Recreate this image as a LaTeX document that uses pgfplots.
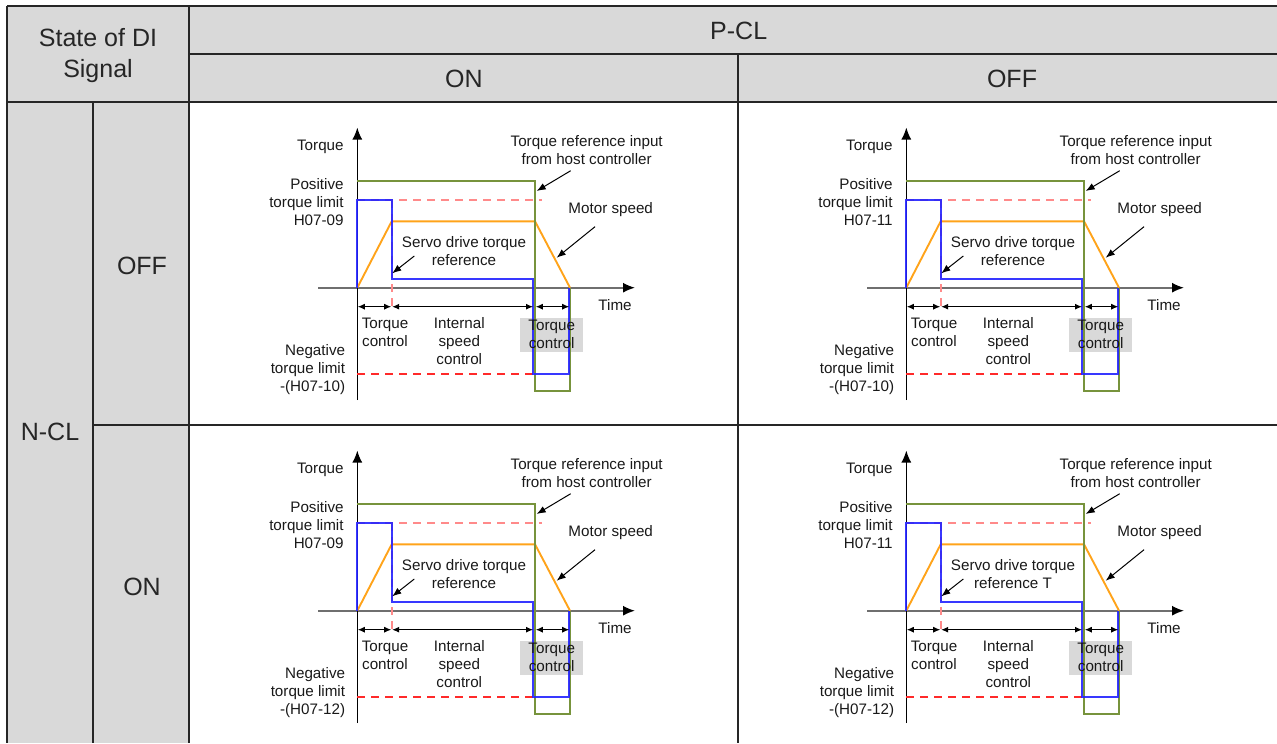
\documentclass[border=0pt]{standalone}
\usepackage{pgfplots}
\pgfplotsset{compat=1.18}
\usepackage{fontspec}
\setmainfont{Liberation Sans}
\usetikzlibrary{arrows.meta}
\definecolor{tblgray}{HTML}{D9D9D9}
\definecolor{tblline}{HTML}{262626}
\definecolor{txt}{HTML}{262626}
\definecolor{cgreen}{HTML}{77933C}
\definecolor{cblue}{HTML}{2222FF}
\definecolor{corange}{HTML}{FFA31A}
\definecolor{cred}{HTML}{FF2A2A}
\definecolor{caxis}{HTML}{6F6F6F}

\pgfplotsset{diag/.style={anchor=north west, scale only axis, width=274.5pt, height=161.5pt,
  xmin=189, xmax=738, ymin=102, ymax=425, y dir=reverse, hide axis, clip=false}}
\tikzset{lbl/.style={font=\fontsize{7.6}{9}\selectfont, inner sep=0pt, text=black!90},
  hdr/.style={font=\fontsize{12.5}{15.5}\selectfont, inner sep=0pt, text=txt}}

\newcommand{\diagram}[5]{%
\begin{axis}[diag, at={(#1,#2)}]
\fill[tblgray] (axis cs:520,318) rectangle (axis cs:582.7,351.7);
% time axis
\addplot[caxis, line width=0.8pt, -{Latex[length=6pt,width=5pt,color=black]}] coordinates {(318,287.7) (635,287.7)};
% torque axis
\addplot[black, line width=0.75pt, -{Latex[length=6pt,width=5pt]}] coordinates {(357.3,400) (357.3,127.5)};
% orange motor speed
\addplot[corange, line width=0.95pt] coordinates {(357.3,287.7) (391.7,221.3) (535,221.3) (570,287.7)};
% green torque reference input
\addplot[cgreen, line width=1pt] coordinates {(357.3,181) (535,181) (535,391) (570,391) (570,287.7)};
% red dashed limits and vertical
\addplot[cred!55, line width=0.8pt, dash pattern=on 4pt off 3pt] coordinates {(391.7,200) (391.7,307)};
\addplot[cred!55, line width=0.8pt, dash pattern=on 4pt off 3pt] coordinates {(357.3,200) (542,200)};
\addplot[cred, line width=0.8pt, dash pattern=on 4pt off 3pt] coordinates {(357.3,374) (535,374)};
% blue servo drive torque reference
\addplot[cblue, line width=1pt, opacity=0.9] coordinates {(357.3,287.7) (357.3,200) (391.7,200) (391.7,279.3) (533.3,279.3) (533.3,374) (569,374) (569,287.7)};
% dimension arrows
\addplot[black, line width=0.5pt, {Latex[length=3.5pt,width=3pt]}-{Latex[length=3.5pt,width=3pt]}] coordinates {(357.8,306.7) (391.2,306.7)};
\addplot[black, line width=0.5pt, {Latex[length=3.5pt,width=3pt]}-{Latex[length=3.5pt,width=3pt]}] coordinates {(392.2,306.7) (533,306.7)};
\addplot[black, line width=0.5pt, {Latex[length=3.5pt,width=3pt]}-{Latex[length=3.5pt,width=3pt]}] coordinates {(535.8,306.7) (569.2,306.7)};
% annotation arrows
\addplot[black, line width=0.5pt, -{Latex[length=4.5pt,width=3.5pt]}] coordinates {(570.7,170.7) (536.7,191)};
\addplot[black, line width=0.5pt, -{Latex[length=4.5pt,width=3.5pt]}] coordinates {(595,226.7) (556.7,257.7)};
\addplot[black, line width=0.5pt, -{Latex[length=4.5pt,width=3.5pt]}] coordinates {(414.3,256) (392.3,273.3)};
% labels
\node[lbl, anchor=east] at (axis cs:344,146.7) {Torque};
\node[lbl, anchor=east, align=right] at (axis cs:344,202.3) {Positive\\torque limit\\#3};
\node[lbl, anchor=east, align=right] at (axis cs:345.5,369.7) {Negative\\torque limit\\#4};
\node[lbl, align=center] at (axis cs:586.7,150) {Torque reference input\\from host controller};
\node[lbl] at (axis cs:610.7,210) {Motor speed};
\node[lbl, align=center] at (axis cs:464,250.7) {Servo drive torque\\#5};
\node[lbl] at (axis cs:615,305) {Time};
\node[lbl, align=center] at (axis cs:385,332) {Torque\\control};
\node[lbl, align=center] at (axis cs:459.3,341) {Internal\\speed\\control};
\node[lbl, align=center] at (axis cs:551.7,334) {Torque\\control};
\end{axis}}

\begin{document}
\begin{tikzpicture}
\begin{axis}[at={(0,0)}, anchor=north west, scale only axis, width=638.5pt, height=371.5pt,
  xmin=0, xmax=1277, ymin=0, ymax=743, y dir=reverse, hide axis, clip=false]
\fill[tblgray] (axis cs:7,6) rectangle (axis cs:1277,102);
\fill[tblgray] (axis cs:7,102) rectangle (axis cs:189,743);
\draw[tblline, line width=0.85pt] (axis cs:7,6) -- (axis cs:1277,6);
\draw[tblline, line width=0.85pt] (axis cs:189,54) -- (axis cs:1277,54);
\draw[tblline, line width=0.85pt] (axis cs:7,102) -- (axis cs:1277,102);
\draw[tblline, line width=0.85pt] (axis cs:93,425) -- (axis cs:1277,425);
\draw[tblline, line width=0.85pt] (axis cs:7,6) -- (axis cs:7,743);
\draw[tblline, line width=0.85pt] (axis cs:93,102) -- (axis cs:93,743);
\draw[tblline, line width=0.85pt] (axis cs:189,6) -- (axis cs:189,743);
\draw[tblline, line width=0.85pt] (axis cs:738,54) -- (axis cs:738,743);
\node[hdr, align=center] at (axis cs:98,56) {State of DI\\Signal};
\node[hdr] at (axis cs:738.7,31) {P-CL};
\node[hdr] at (axis cs:463.8,79) {ON};
\node[hdr] at (axis cs:1012,79) {OFF};
\node[hdr] at (axis cs:50,432) {N-CL};
\node[hdr] at (axis cs:142,266) {OFF};
\node[hdr] at (axis cs:142,587) {ON};
\end{axis}
\diagram{94.5pt}{-51pt}{H07-09}{-(H07-10)}{reference}
\diagram{369pt}{-51pt}{H07-11}{-(H07-10)}{reference}
\diagram{94.5pt}{-212.5pt}{H07-09}{-(H07-12)}{reference}
\diagram{369pt}{-212.5pt}{H07-11}{-(H07-12)}{reference T}
\pgfresetboundingbox
\useasboundingbox (0,0) rectangle (638.5pt,-371.5pt);
\end{tikzpicture}
\end{document}
